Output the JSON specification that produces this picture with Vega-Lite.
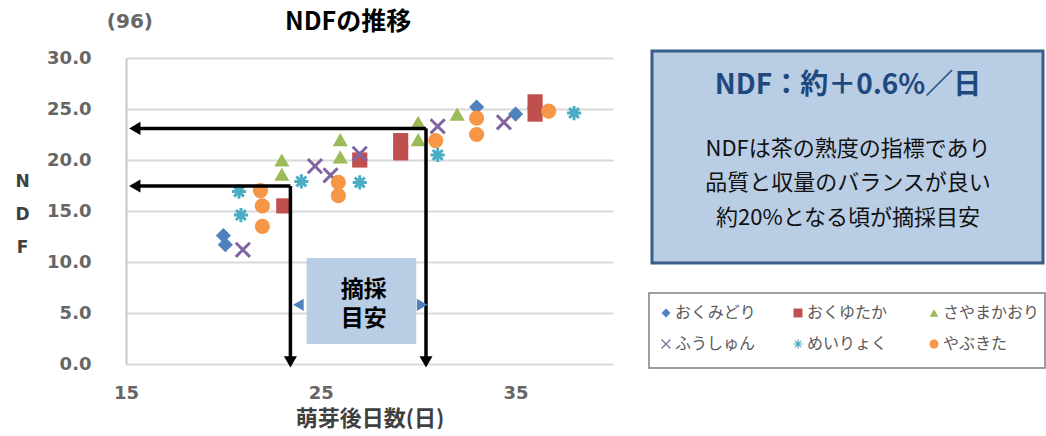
{
  "$schema": "https://vega.github.io/schema/vega-lite/v6.json",
  "background": "white",
  "padding": {"left": 14, "top": 10, "right": 0, "bottom": 0},
  "config": {"view": {"stroke": null}, "font": "Noto Sans CJK JP"},
  "spacing": 34,
  "resolve": {"scale": {"x": "independent", "y": "independent"}},
  "datasets": {
    "pts": [
      {"v": "おくみどり", "day": 20.0, "ndf": 12.6},
      {"v": "おくみどり", "day": 20.1, "ndf": 11.7},
      {"v": "おくみどり", "day": 33.0, "ndf": 25.2},
      {"v": "おくみどり", "day": 35.0, "ndf": 24.5},
      {"v": "おくゆたか", "day": 23.1, "ndf": 15.5},
      {"v": "おくゆたか", "day": 27.0, "ndf": 20.0},
      {"v": "おくゆたか", "day": 29.1, "ndf": 21.9},
      {"v": "おくゆたか", "day": 29.1, "ndf": 20.7},
      {"v": "おくゆたか", "day": 36.0, "ndf": 25.7},
      {"v": "おくゆたか", "day": 36.0, "ndf": 24.5},
      {"v": "さやまかおり", "day": 23.0, "ndf": 20.0},
      {"v": "さやまかおり", "day": 23.0, "ndf": 18.6},
      {"v": "さやまかおり", "day": 26.0, "ndf": 22.0},
      {"v": "さやまかおり", "day": 26.0, "ndf": 20.3},
      {"v": "さやまかおり", "day": 30.0, "ndf": 23.7},
      {"v": "さやまかおり", "day": 30.0, "ndf": 22.0},
      {"v": "さやまかおり", "day": 32.0, "ndf": 24.5},
      {"v": "ふうしゅん", "day": 21.0, "ndf": 11.2},
      {"v": "ふうしゅん", "day": 24.7, "ndf": 19.4},
      {"v": "ふうしゅん", "day": 25.5, "ndf": 18.5},
      {"v": "ふうしゅん", "day": 27.0, "ndf": 20.6},
      {"v": "ふうしゅん", "day": 31.0, "ndf": 23.3},
      {"v": "ふうしゅん", "day": 34.4, "ndf": 23.7},
      {"v": "めいりょく", "day": 20.8, "ndf": 16.9},
      {"v": "めいりょく", "day": 20.9, "ndf": 14.6},
      {"v": "めいりょく", "day": 24.0, "ndf": 17.9},
      {"v": "めいりょく", "day": 27.0, "ndf": 17.8},
      {"v": "めいりょく", "day": 31.0, "ndf": 20.5},
      {"v": "めいりょく", "day": 38.0, "ndf": 24.6},
      {"v": "やぶきた", "day": 21.9, "ndf": 17.0},
      {"v": "やぶきた", "day": 22.0, "ndf": 15.5},
      {"v": "やぶきた", "day": 22.0, "ndf": 13.5},
      {"v": "やぶきた", "day": 25.9, "ndf": 17.8},
      {"v": "やぶきた", "day": 25.9, "ndf": 16.5},
      {"v": "やぶきた", "day": 30.9, "ndf": 21.9},
      {"v": "やぶきた", "day": 33.0, "ndf": 24.1},
      {"v": "やぶきた", "day": 33.0, "ndf": 22.5},
      {"v": "やぶきた", "day": 36.7, "ndf": 24.8}
    ],
    "segs": [
      {"day": 15.5, "ndf": 23.1, "day2": 30.4, "ndf2": 23.1},
      {"day": 30.4, "ndf": 23.1, "day2": 30.4, "ndf2": 0.5},
      {"day": 15.5, "ndf": 17.45, "day2": 23.44, "ndf2": 17.45},
      {"day": 23.44, "ndf": 17.45, "day2": 23.44, "ndf2": 0.5}
    ],
    "lheads": [{"day": 15.45, "ndf": 23.1}, {"day": 15.45, "ndf": 17.45}],
    "dheads": [{"day": 30.4, "ndf": 0.2}, {"day": 23.44, "ndf": 0.2}],
    "box": [{"day": 24.27, "ndf": 10.4, "day2": 29.9, "ndf2": 1.96}],
    "bleft": [{"day": 23.85, "ndf": 5.8}],
    "bright": [{"day": 30.2, "ndf": 5.8}],
    "boxtext": [{"t": "摘採", "day": 27.2, "ndf": 7.25}, {"t": "目安", "day": 27.2, "ndf": 4.45}],
    "unit": [{"t": "(96)", "day": 15.2, "ndf": 33.5}],
    "ttl": [{"t": "NDFの推移", "day": 26.4, "ndf": 33.5}],
    "note": [{"px": 5, "py": -7, "px2": 396, "py2": 205}],
    "notetitle": [{"t": "NDF：約＋0.6%／日", "px": 201, "py": 28}],
    "notebody": [
      {"t": "NDFは茶の熟度の指標であり", "px": 201, "py": 91},
      {"t": "品質と収量のバランスが良い", "px": 201, "py": 125},
      {"t": "約20%となる頃が摘採目安", "px": 201, "py": 160}
    ],
    "legbox": [{"px": 2, "py": 235, "px2": 398, "py2": 310}],
    "leg": [
      {"v": "おくみどり", "px": 19, "py": 255},
      {"v": "おくゆたか", "px": 151, "py": 255},
      {"v": "さやまかおり", "px": 287, "py": 255},
      {"v": "ふうしゅん", "px": 19, "py": 286},
      {"v": "めいりょく", "px": 151, "py": 286},
      {"v": "やぶきた", "px": 287, "py": 286}
    ]
  },
  "hconcat": [
    {
      "width": 487,
      "height": 306,
      "layer": [
        {
          "data": {"name": "pts"},
          "transform": [{"filter": {"field": "v", "oneOf": ["おくみどり", "おくゆたか", "さやまかおり"]}}],
          "mark": {"type": "point", "filled": true, "opacity": 1, "size": 230},
          "encoding": {
            "x": {
              "field": "day", "type": "quantitative",
              "scale": {"domain": [15, 40], "nice": false, "zero": false},
              "axis": {
                "values": [15, 25, 35], "format": "d", "labelFlush": false,
                "labelFont": "DejaVu Sans", "labelFontWeight": "bold", "labelFontSize": 18, "labelColor": "#666666",
                "labelPadding": 20, "ticks": false, "domain": false, "grid": false,
                "title": "萌芽後日数(日)", "titleFont": "Noto Sans CJK JP", "titleFontSize": 22,
                "titleFontWeight": "bold", "titleColor": "#404040", "titlePadding": 6
              }
            },
            "y": {
              "field": "ndf", "type": "quantitative",
              "scale": {"domain": [0, 30], "nice": false},
              "axis": {
                "values": [0, 5, 10, 15, 20, 25, 30], "format": ".1f",
                "labelFont": "DejaVu Sans", "labelFontWeight": "bold", "labelFontSize": 18, "labelColor": "#666666",
                "labelPadding": 35, "ticks": false, "domain": true, "domainColor": "#c8c8c8", "domainWidth": 2,
                "grid": true, "gridColor": "#d9d9d9", "gridWidth": 2,
                "title": ["N", "D", "F"], "titleAngle": 0, "titleFont": "DejaVu Sans", "titleFontSize": 17,
                "titleFontWeight": "bold", "titleColor": "#404040", "titleLineHeight": 33,
                "titleBaseline": "middle", "titleAlign": "center", "titleX": -104, "titleY": 123
              }
            },
            "color": {
              "field": "v", "type": "nominal", "legend": null,
              "scale": {"domain": ["おくみどり", "おくゆたか", "さやまかおり", "ふうしゅん", "めいりょく", "やぶきた"],
                        "range": ["#4F81BD", "#C0504D", "#9BBB59", "#8064A2", "#4BACC6", "#F79646"]}
            },
            "shape": {
              "field": "v", "type": "nominal", "legend": null,
              "scale": {"domain": ["おくみどり", "おくゆたか", "さやまかおり", "ふうしゅん", "めいりょく", "やぶきた"],
                        "range": ["diamond", "square", "triangle-up", "M-1,-1L1,1M-1,1L1,-1", "M-1,0L1,0M0,-1L0,1M-0.7,-0.7L0.7,0.7M-0.7,0.7L0.7,-0.7", "circle"]}
            }
          }
        },
        {
          "data": {"name": "pts"},
          "transform": [{"filter": {"field": "v", "oneOf": ["ふうしゅん", "めいりょく"]}}],
          "mark": {"type": "point", "filled": false, "opacity": 1, "size": 200, "strokeWidth": 3},
          "encoding": {
            "x": {"field": "day", "type": "quantitative"},
            "y": {"field": "ndf", "type": "quantitative"},
            "color": {"field": "v", "type": "nominal", "legend": null},
            "shape": {"field": "v", "type": "nominal", "legend": null}
          }
        },
        {
          "data": {"name": "pts"},
          "transform": [{"filter": {"field": "v", "equal": "やぶきた"}}],
          "mark": {"type": "point", "filled": true, "opacity": 1, "size": 230},
          "encoding": {
            "x": {"field": "day", "type": "quantitative"},
            "y": {"field": "ndf", "type": "quantitative"},
            "color": {"field": "v", "type": "nominal", "legend": null},
            "shape": {"field": "v", "type": "nominal", "legend": null}
          }
        },
        {
          "data": {"name": "segs"},
          "mark": {"type": "rule", "color": "#000000", "strokeWidth": 3.5},
          "encoding": {
            "x": {"field": "day", "type": "quantitative"},
            "y": {"field": "ndf", "type": "quantitative"},
            "x2": {"field": "day2"},
            "y2": {"field": "ndf2"}
          }
        },
        {
          "data": {"name": "lheads"},
          "mark": {"type": "point", "shape": "triangle-left", "filled": true, "color": "#000000", "opacity": 1, "size": 170},
          "encoding": {
            "x": {"field": "day", "type": "quantitative"},
            "y": {"field": "ndf", "type": "quantitative"}
          }
        },
        {
          "data": {"name": "dheads"},
          "mark": {"type": "point", "shape": "triangle-down", "filled": true, "color": "#000000", "opacity": 1, "size": 170},
          "encoding": {
            "x": {"field": "day", "type": "quantitative"},
            "y": {"field": "ndf", "type": "quantitative"}
          }
        },
        {
          "data": {"name": "bleft"},
          "mark": {"type": "point", "shape": "triangle-left", "filled": true, "color": "#4F81BD", "opacity": 1, "size": 150},
          "encoding": {
            "x": {"field": "day", "type": "quantitative"},
            "y": {"field": "ndf", "type": "quantitative"}
          }
        },
        {
          "data": {"name": "bright"},
          "mark": {"type": "point", "shape": "triangle-right", "filled": true, "color": "#4F81BD", "opacity": 1, "size": 150},
          "encoding": {
            "x": {"field": "day", "type": "quantitative"},
            "y": {"field": "ndf", "type": "quantitative"}
          }
        },
        {
          "data": {"name": "box"},
          "mark": {"type": "rect", "fill": "#B9CDE5"},
          "encoding": {
            "x": {"field": "day", "type": "quantitative"},
            "y": {"field": "ndf", "type": "quantitative"},
            "x2": {"field": "day2"},
            "y2": {"field": "ndf2"}
          }
        },
        {
          "data": {"name": "boxtext"},
          "mark": {"type": "text", "fontSize": 23, "fontWeight": "bold", "color": "#000000", "font": "Noto Sans CJK JP", "baseline": "middle"},
          "encoding": {
            "x": {"field": "day", "type": "quantitative"},
            "y": {"field": "ndf", "type": "quantitative"},
            "text": {"field": "t"}
          }
        },
        {
          "data": {"name": "unit"},
          "mark": {"type": "text", "fontSize": 20, "fontWeight": "bold", "color": "#666666", "font": "DejaVu Sans", "baseline": "middle"},
          "encoding": {
            "x": {"field": "day", "type": "quantitative"},
            "y": {"field": "ndf", "type": "quantitative"},
            "text": {"field": "t"}
          }
        },
        {
          "data": {"name": "ttl"},
          "mark": {"type": "text", "fontSize": 25, "fontWeight": "bold", "color": "#000000", "font": "Noto Sans CJK JP", "baseline": "middle"},
          "encoding": {
            "x": {"field": "day", "type": "quantitative"},
            "y": {"field": "ndf", "type": "quantitative"},
            "text": {"field": "t"}
          }
        }
      ]
    },
    {
      "width": 398,
      "height": 320,
      "layer": [
        {
          "data": {"name": "note"},
          "mark": {"type": "rect", "fill": "#B9CDE5", "stroke": "#385D8A", "strokeWidth": 3},
          "encoding": {
            "x": {"field": "px", "type": "quantitative", "scale": {"domain": [0, 398], "nice": false, "zero": false}, "axis": null},
            "y": {"field": "py", "type": "quantitative", "scale": {"domain": [0, 320], "nice": false, "reverse": true}, "axis": null},
            "x2": {"field": "px2"},
            "y2": {"field": "py2"}
          }
        },
        {
          "data": {"name": "notetitle"},
          "mark": {"type": "text", "fontSize": 28, "fontWeight": "bold", "color": "#1F497D", "font": "Noto Sans CJK JP", "baseline": "middle"},
          "encoding": {
            "x": {"field": "px", "type": "quantitative"},
            "y": {"field": "py", "type": "quantitative"},
            "text": {"field": "t"}
          }
        },
        {
          "data": {"name": "notebody"},
          "mark": {"type": "text", "fontSize": 22, "color": "#111111", "font": "Noto Sans CJK JP", "baseline": "middle"},
          "encoding": {
            "x": {"field": "px", "type": "quantitative"},
            "y": {"field": "py", "type": "quantitative"},
            "text": {"field": "t"}
          }
        },
        {
          "data": {"name": "legbox"},
          "mark": {"type": "rect", "fill": "#FFFFFF", "stroke": "#7F7F7F", "strokeWidth": 1.5},
          "encoding": {
            "x": {"field": "px", "type": "quantitative"},
            "y": {"field": "py", "type": "quantitative"},
            "x2": {"field": "px2"},
            "y2": {"field": "py2"}
          }
        },
        {
          "data": {"name": "leg"},
          "transform": [{"filter": {"field": "v", "oneOf": ["おくみどり", "おくゆたか", "さやまかおり", "やぶきた"]}}],
          "mark": {"type": "point", "filled": true, "opacity": 1, "size": 80},
          "encoding": {
            "x": {"field": "px", "type": "quantitative"},
            "y": {"field": "py", "type": "quantitative"},
            "color": {
              "field": "v", "type": "nominal", "legend": null,
              "scale": {"domain": ["おくみどり", "おくゆたか", "さやまかおり", "ふうしゅん", "めいりょく", "やぶきた"],
                        "range": ["#4F81BD", "#C0504D", "#9BBB59", "#8064A2", "#4BACC6", "#F79646"]}
            },
            "shape": {
              "field": "v", "type": "nominal", "legend": null,
              "scale": {"domain": ["おくみどり", "おくゆたか", "さやまかおり", "ふうしゅん", "めいりょく", "やぶきた"],
                        "range": ["diamond", "square", "triangle-up", "M-1,-1L1,1M-1,1L1,-1", "M-1,0L1,0M0,-1L0,1M-0.7,-0.7L0.7,0.7M-0.7,0.7L0.7,-0.7", "circle"]}
            }
          }
        },
        {
          "data": {"name": "leg"},
          "transform": [{"filter": {"field": "v", "oneOf": ["ふうしゅん", "めいりょく"]}}],
          "mark": {"type": "point", "filled": false, "opacity": 1, "size": 80, "strokeWidth": 1.2},
          "encoding": {
            "x": {"field": "px", "type": "quantitative"},
            "y": {"field": "py", "type": "quantitative"},
            "color": {"field": "v", "type": "nominal", "legend": null},
            "shape": {"field": "v", "type": "nominal", "legend": null}
          }
        },
        {
          "data": {"name": "leg"},
          "mark": {"type": "text", "fontSize": 16, "color": "#595959", "font": "Noto Sans CJK JP", "align": "left", "baseline": "middle", "dx": 9},
          "encoding": {
            "x": {"field": "px", "type": "quantitative"},
            "y": {"field": "py", "type": "quantitative"},
            "text": {"field": "v"}
          }
        }
      ]
    }
  ]
}
